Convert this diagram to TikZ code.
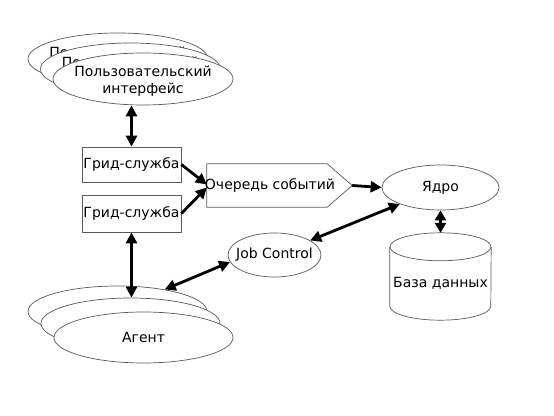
\documentclass[tikz,border=0pt]{standalone}
\usepackage{fontspec}
\setmainfont{DejaVu Sans}
\usetikzlibrary{arrows.meta,shapes.geometric,calc}
\begin{document}
\begin{tikzpicture}[x=1pt,y=1pt,
  txt/.style={font=\fontsize{14}{17}\selectfont, inner sep=0pt, align=center},
  ell/.style={ellipse, draw=black!65, line width=0.7pt, fill=white, inner sep=0pt},
  box/.style={rectangle, draw=black!65, line width=0.7pt, fill=white, minimum width=99pt, txt},
  shp/.style={draw=black!65, line width=0.7pt, fill=white},
  tip/.style={Triangle[length=11pt,width=11pt]},
  conn/.style={line width=2.8pt, -{Triangle[length=11pt,width=11pt]}},
  dconn/.style={line width=2.8pt, {Triangle[length=11pt,width=11pt]}-{Triangle[length=11pt,width=11pt]}}]
\fill[white] (0,0) rectangle (554,415);
\useasboundingbox (0,0) rectangle (554,415);

% user interfaces
\node[ell, minimum width=180pt, minimum height=52pt] (ui1) at (118,356) {};
\node[txt] (ui1t) at (118,353) {Пользовательский\\интерфейс};
\node[ell, minimum width=180pt, minimum height=52pt] (ui2) at (130.5,346) {};
\node[txt] (ui2t) at (130.5,343) {Пользовательский\\интерфейс};
\node[ell, minimum width=180pt, minimum height=52pt] (ui3) at (143,336) {};
\node[txt] (ui3t) at (143,333.5) {Пользовательский\\интерфейс};

% grid services
\node[box, minimum height=35pt] (g1) at (131.5,250.5) {Грид-служба};
\node[box, minimum height=37pt] (g2) at (131.5,201.5) {Грид-служба};

% event queue
\node[minimum width=145pt, minimum height=43pt, inner sep=0pt] (q) at (279.5,229.5) {};
\draw[shp] (q.north west) -- ($(q.north east)+(-25,0)$) -- (q.east) -- ($(q.south east)+(-25,0)$) -- (q.south west) -- cycle;
\node[txt] (qt) at (270,229.5) {Очередь событий};

% core
\node[ell, minimum width=117pt, minimum height=45pt] (core) at (440.5,227.5) {};
\node[txt] (coret) at (440.5,227.5) {Ядро};

% database
\node[minimum width=101pt, minimum height=87pt, inner sep=0pt] (db) at (440.5,138.5) {};
\draw[shp] ($(db.north west)+(0,-14)$) -- ($(db.south west)+(0,14)$)
   arc[start angle=180,end angle=360,x radius=50.5pt,y radius=14pt] -- ($(db.north east)+(0,-14)$);
\draw[shp] ($(db.north)+(0,-14)$) ellipse [x radius=50.5pt, y radius=14pt];
\node[txt] (dbt) at (440.5,132) {База данных};

% job control
\node[ell, minimum width=93pt, minimum height=44pt] (jc) at (274.5,160) {};
\node[txt] (jct) at (274.5,160) {Job Control};

% agents
\node[ell, minimum width=179pt, minimum height=51pt] (ag1) at (117.5,103.5) {};
\node[ell, minimum width=179pt, minimum height=51pt] (ag2) at (130.5,91.5) {};
\node[ell, minimum width=179pt, minimum height=51pt] (ag3) at (143.5,77.5) {};
\node[txt] (ag3t) at (143.5,77.5) {Агент};

% connectors
\draw[dconn] (g1.north |- ui3.south) -- (g1.north);
\draw[conn] (g1.east) -- ($(q.west)+(0,1)$);
\draw[conn] (g2.east) -- ($(q.west)+(0,-2)$);
\draw[conn] (q.east) -- (core.west);
\draw[line width=2.8pt, {Triangle[length=10pt,width=11pt]}-{Triangle[length=10pt,width=11pt]}] (core.south) -- (db.north);
\draw[dconn] (jc) -- (core);
\draw[dconn] (jc.189) -- (ag1.25);
\draw[dconn] (g2.south) -- (g2.south |- ag2.north);
\end{tikzpicture}
\end{document}
